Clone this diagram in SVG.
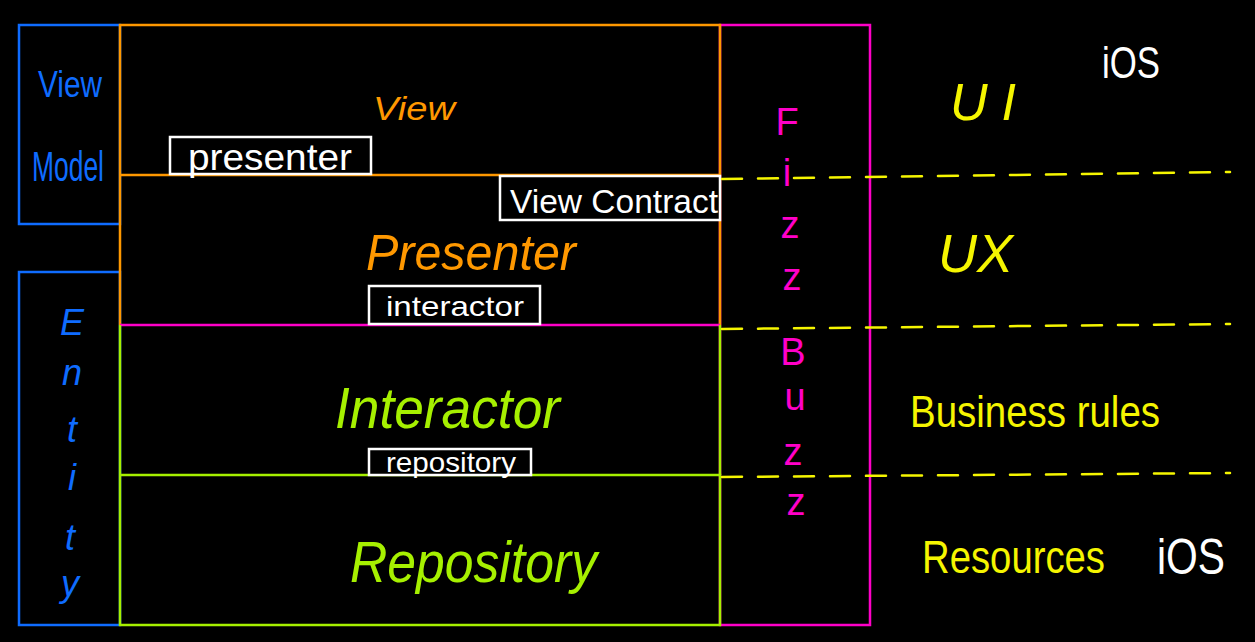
<svg xmlns="http://www.w3.org/2000/svg" width="1255" height="642" viewBox="0 0 1255 642">
<style>
.bg{fill:#000}
.ln{fill:none;stroke-width:2.5}
.blue{stroke:#0f6cff}.orange{stroke:#ff9800}.pink{stroke:#ff00c8}.green{stroke:#a6f000}.white{stroke:#fff}
.t{font-family:"Liberation Sans",Arial,sans-serif;font-weight:normal}
.tb{fill:#0f6cff}.to{fill:#ff9800}.tp{fill:#ff00c8}.tg{fill:#a6f000}.tw{fill:#fff}.ty{fill:#f5f500}
.it{font-style:italic}
.dash{fill:none;stroke:#f5f500;stroke-width:2.5;stroke-dasharray:20 16;stroke-linecap:round}
.box{fill:#000;stroke:#fff;stroke-width:2.5}
</style>
<rect class="bg" x="0" y="0" width="1255" height="642"/>

<g id="viewmodel">
<rect class="ln blue" x="19" y="25" width="101" height="199"/>
<text class="t tb" x="38" y="97" font-size="36" textLength="64" lengthAdjust="spacingAndGlyphs">View</text>
<text class="t tb" x="32" y="181" font-size="42" textLength="72" lengthAdjust="spacingAndGlyphs">Model</text>
</g>

<g id="entity">
<rect class="ln blue" x="19" y="272" width="101" height="353"/>
<g class="t tb it" font-size="36" text-anchor="middle">
<text x="72" y="335">E</text>
<text x="72" y="385">n</text>
<text x="72" y="442">t</text>
<text x="72" y="490">i</text>
<text x="70" y="550">t</text>
<text x="70" y="596">y</text>
</g>
</g>

<g id="fizzbuzz">
<rect class="ln pink" x="720" y="25" width="150" height="600"/>
<g class="t tp" font-size="38" text-anchor="middle">
<text x="787" y="135">F</text>
<text x="787" y="186">i</text>
<text x="790" y="238">z</text>
<text x="792" y="290">z</text>
<text x="793" y="365">B</text>
<text x="795" y="410">u</text>
<text x="793" y="465">z</text>
<text x="796" y="515">z</text>
</g>
</g>

<g id="view-layer">
<polyline class="ln orange" points="120,175 120,25 720,25 720,175"/>
<text class="t to it" x="373" y="120" font-size="34" textLength="82" lengthAdjust="spacingAndGlyphs">View</text>
</g>

<g id="presenter-layer">
<line class="ln orange" x1="120" y1="175" x2="720" y2="175"/>
<line class="ln orange" x1="120" y1="175" x2="120" y2="325"/>
<line class="ln orange" x1="720" y1="175" x2="720" y2="325"/>
<text class="t to it" x="366" y="270" font-size="50" textLength="210" lengthAdjust="spacingAndGlyphs">Presenter</text>
</g>

<g id="interactor-layer">
<line class="ln pink" x1="120" y1="325" x2="720" y2="325"/>
<line class="ln green" x1="120" y1="325" x2="120" y2="475"/>
<line class="ln green" x1="720" y1="325" x2="720" y2="475"/>
<text class="t tg it" x="335" y="428" font-size="58" textLength="225" lengthAdjust="spacingAndGlyphs">Interactor</text>
</g>

<g id="repository-layer">
<polyline class="ln green" points="120,475 120,625 720,625 720,475 120,475"/>
<text class="t tg it" x="350" y="582" font-size="58" textLength="247" lengthAdjust="spacingAndGlyphs">Repository</text>
</g>

<g id="presenter-box">
<rect class="box" x="170" y="137" width="201" height="37"/>
<text class="t tw" x="188" y="170" font-size="36" textLength="164" lengthAdjust="spacingAndGlyphs">presenter</text>
</g>

<g id="viewcontract-box">
<rect class="box" x="500" y="176" width="220" height="44"/>
<text class="t tw" x="510" y="213" font-size="34" textLength="208" lengthAdjust="spacingAndGlyphs">View Contract</text>
</g>

<g id="interactor-box">
<rect class="box" x="369" y="286" width="171" height="38"/>
<text class="t tw" x="386" y="316" font-size="28" textLength="138" lengthAdjust="spacingAndGlyphs">interactor</text>
</g>

<g id="repository-box">
<rect class="box" x="369" y="449" width="162" height="26"/>
<text class="t tw" x="386" y="472" font-size="28" textLength="130" lengthAdjust="spacingAndGlyphs">repository</text>
</g>

<g id="connectors">
<line class="dash" x1="722" y1="179" x2="1230" y2="172"/>
<line class="dash" x1="722" y1="329" x2="1230" y2="324"/>
<line class="dash" x1="722" y1="477" x2="1230" y2="473"/>
</g>

<g id="labels">
<text class="t ty it" x="950" y="120" font-size="52" letter-spacing="14">UI</text>
<text class="t ty it" x="938" y="272" font-size="54" textLength="75" lengthAdjust="spacingAndGlyphs">UX</text>
<text class="t ty" x="910" y="427" font-size="44" textLength="250" lengthAdjust="spacingAndGlyphs">Business rules</text>
<text class="t ty" x="922" y="573" font-size="46" textLength="183" lengthAdjust="spacingAndGlyphs">Resources</text>
<text class="t tw" x="1102" y="78" font-size="44" textLength="58" lengthAdjust="spacingAndGlyphs">iOS</text>
<text class="t tw" x="1157" y="574" font-size="50" textLength="68" lengthAdjust="spacingAndGlyphs">iOS</text>
</g>
</svg>
